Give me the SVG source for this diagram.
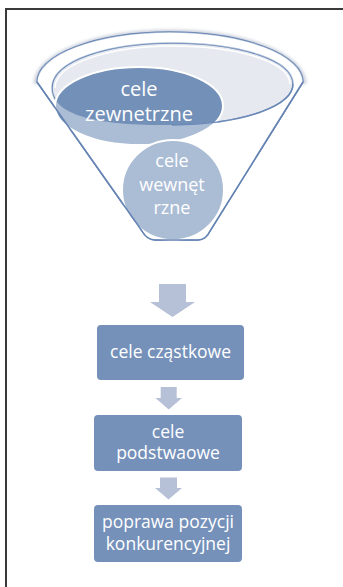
<svg xmlns="http://www.w3.org/2000/svg" width="343" height="587" viewBox="0 0 343 587">
<style>
.lbl{font-family:"Open Sans","Liberation Sans",sans-serif;fill:#ffffff;text-anchor:middle}
.box{fill:#7591BA}
.arr{fill:#B6C0D7}
</style>
<defs>
<filter id="blur" x="-10%" y="-30%" width="120%" height="160%"><feGaussianBlur stdDeviation="1.6"/></filter>
<path id="opening" d="M 52 88 C 52 60 110 43 172 43 C 240 43 293 60 293 84 C 293 104 250 124 172 125 C 100 126 52 116 52 88 Z"/>
</defs>
<rect width="343" height="587" fill="#ffffff"/>
<g id="frame">
<line x1="6" y1="9" x2="343" y2="9" stroke="#3a3a3a" stroke-width="2"/>
<line x1="6" y1="8" x2="6" y2="587" stroke="#3a3a3a" stroke-width="2"/>
</g>
<g id="funnel">
<path d="M 37 84 A 133 51 0 0 1 303 84" fill="none" stroke="#CDD2DD" stroke-width="7" filter="url(#blur)"/>
<path d="M 37 82 A 133 50 0 0 1 303 82 L 210 231 Q 206 240 198 240 L 155 240 Q 147 240 142 231 Z" fill="#ffffff" stroke="#6584B3" stroke-width="1.5"/>
<use href="#opening" fill="#E6E9EF" stroke="#6A89B7" stroke-width="1.6"/>
<path d="M 55 88 C 55 63 112 46 172 46 C 238 46 290 62 290 84" fill="none" stroke="#ffffff" stroke-width="1.5"/>
</g>
<g id="cele-zewnetrzne">
<ellipse cx="139" cy="106" rx="84" ry="39" fill="#7390B9" stroke="#ffffff" stroke-width="2"/>
</g>
<g id="cele-wewnetrzne">
<ellipse cx="173" cy="190" rx="51" ry="50" fill="#7390B9" stroke="#ffffff" stroke-width="2"/>
</g>
<g id="funnel-front">
<path d="M 37 82 A 133 50 0 0 1 303 82 L 210 231 Q 206 240 198 240 L 155 240 Q 147 240 142 231 Z M 52 88 C 52 60 110 43 172 43 C 240 43 293 60 293 84 C 293 104 250 124 172 125 C 100 126 52 116 52 88 Z" fill="#ffffff" fill-opacity="0.4" fill-rule="evenodd"/>
<path d="M 37 82 L 142 231 Q 147 240 155 240 L 198 240 Q 206 240 210 231 L 303 82" fill="none" stroke="#6584B3" stroke-width="1.5"/>
<path d="M 293 84 C 293 104 250 124 172 125" fill="none" stroke="#6A89B7" stroke-width="1.4"/>
</g>
<g id="funnel-text">
<text class="lbl" x="139" y="96" font-size="20">cele</text>
<text class="lbl" x="139" y="121" font-size="20">zewnetrzne</text>
<text class="lbl" x="172" y="167" font-size="18">cele</text>
<text class="lbl" x="172" y="191" font-size="18">wewnęt</text>
<text class="lbl" x="172" y="214" font-size="18">rzne</text>
</g>
<g id="connectors">
<path class="arr" d="M 159 284 L 186 284 L 186 302 L 195 302 L 172.5 317 L 150 302 L 159 302 Z"/>
<path class="arr" d="M 160.7 387 L 176.7 387 L 176.7 398 L 182 398 L 168.7 409.5 L 155.5 398 L 160.7 398 Z"/>
<path class="arr" d="M 160 477.5 L 177 477.5 L 177 488 L 182 488 L 168.5 499.5 L 155 488 L 160 488 Z"/>
</g>
<g id="cele-czastkowe">
<rect class="box" x="97" y="325" width="147" height="55" rx="4"/>
<text class="lbl" x="170.5" y="358" font-size="17.5">cele cząstkowe</text>
</g>
<g id="cele-podstawowe">
<rect class="box" x="94" y="415" width="148" height="56" rx="4"/>
<text class="lbl" x="168" y="438" font-size="17.5">cele</text>
<text class="lbl" x="168" y="458.5" font-size="17.5">podstwaowe</text>
</g>
<g id="poprawa">
<rect class="box" x="94" y="505" width="148" height="57" rx="4"/>
<text class="lbl" x="168" y="528" font-size="17.5">poprawa pozycji</text>
<text class="lbl" x="168" y="550" font-size="17.5">konkurencyjnej</text>
</g>
</svg>
